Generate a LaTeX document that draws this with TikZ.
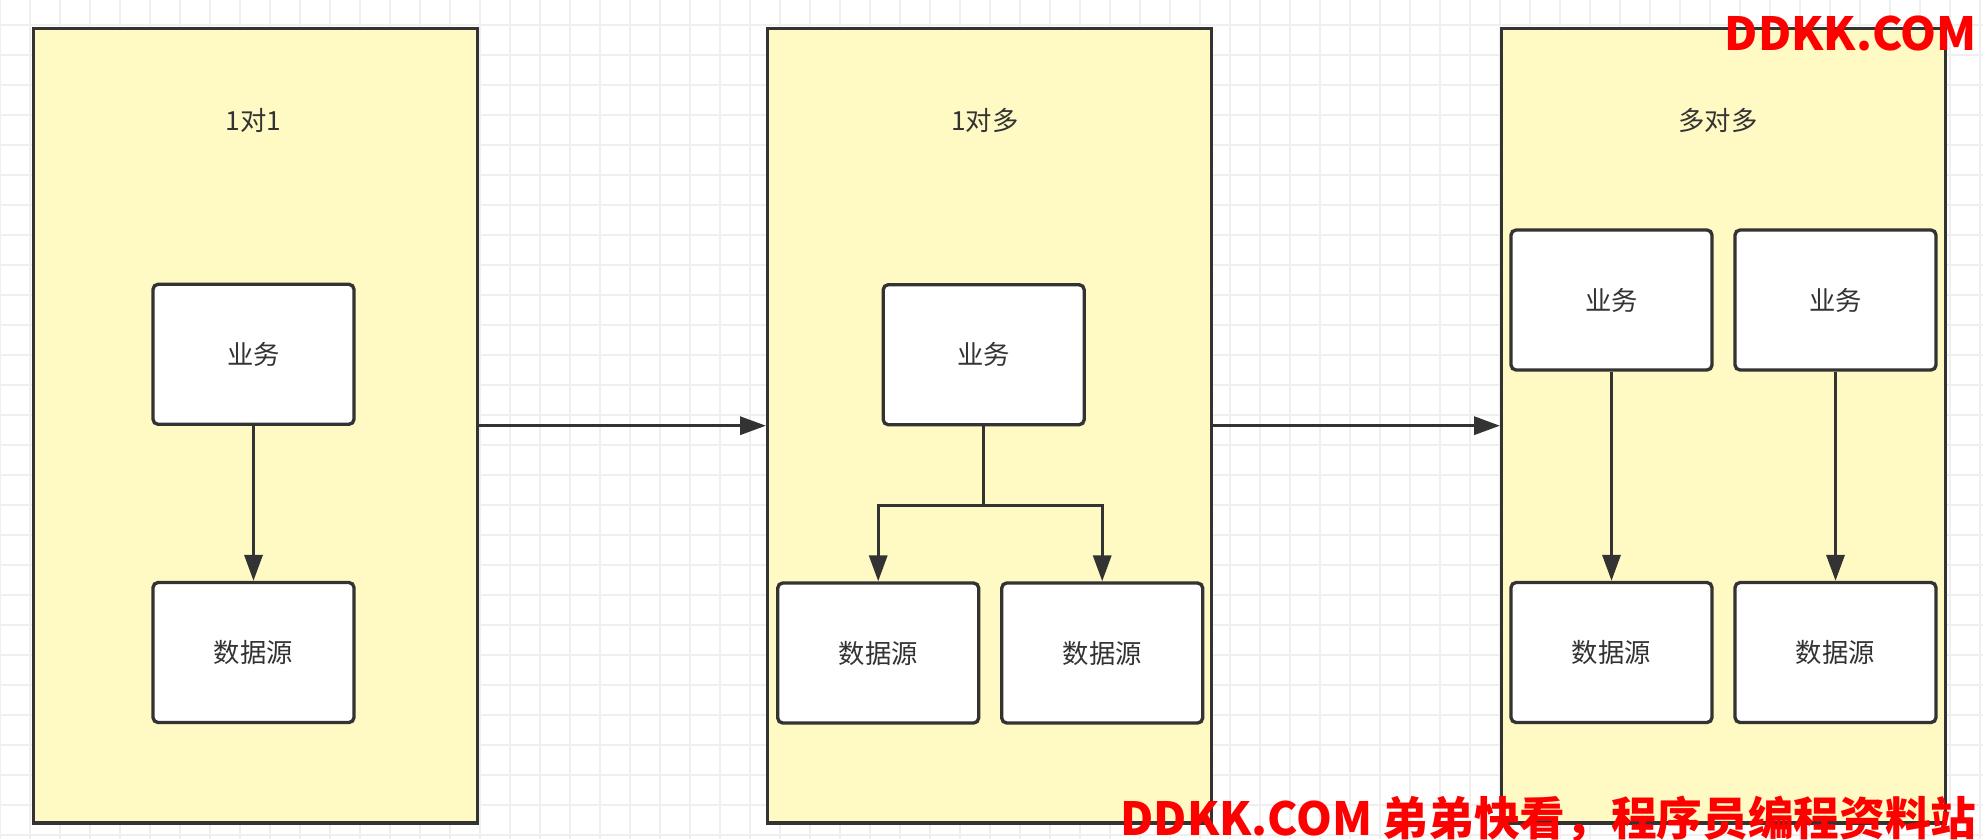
\documentclass[tikz,border=0pt]{standalone}
\usepackage{fontspec}
\newfontfamily\cjk{Noto Sans CJK SC}
\usetikzlibrary{arrows.meta,positioning}
\definecolor{panelfill}{HTML}{FFF9C4}
\definecolor{edge}{HTML}{333333}
\definecolor{gridline}{HTML}{EFEFEF}
\definecolor{wmred}{HTML}{FF0000}
\tikzset{
  panel/.style={draw=edge,fill=panelfill,line width=1.9pt,minimum width=8.88cm,minimum height=15.9cm,anchor=north west,inner sep=0pt},
  box/.style={draw=edge,fill=white,line width=1.9pt,rounded corners=0.1cm,minimum width=4.02cm,minimum height=2.8cm,font=\cjk\fontsize{15}{18}\selectfont,text=edge},
  title/.style={font=\cjk\fontsize{15}{18}\selectfont,text=edge},
  arr/.style={draw=edge,line width=1.9pt,-{Triangle[length=0.52cm,width=0.36cm]}},
  watermark/.style={font=\cjk\bfseries\fontsize{26}{30}\selectfont,text=wmred,inner sep=0pt}
}
\begin{document}
\begin{tikzpicture}[x=0.02cm,y=-0.02cm]
  \useasboundingbox (0,0) rectangle (1983,839);
  % background grid
  \foreach \gx in {0,30,...,1980} \draw[gridline,line width=0.7pt] (\gx,0) -- (\gx,839);
  \foreach \gy in {25,55,...,835} \draw[gridline,line width=0.7pt] (0,\gy) -- (1983,\gy);
  % the three panels
  \node[panel] (p1) at (31.6,26.6) {};
  \node[panel] (p2) at (766,26.6) {};
  \node[panel] (p3) at (1500,26.6) {};
  \node[title] (t1) at (253.5,120) {1对1};
  \node[title] (t2) at (985,120) {1对多};
  \node[title] (t3) at (1718,120) {多对多};
  \draw[arr] (p1.east) -- (p2.west);
  \draw[arr] (p2.east) -- (p3.west);
  % 1对1
  \node[box] (s1) at (253.5,354.3) {业务};
  \node[box] (d1) at (253.5,652.5) {数据源};
  \draw[arr] (s1) -- (d1);
  % 1对多
  \node[box] (s2) at (983.7,354.7) {业务};
  \node[box] (d2a) at (878.2,653) {数据源};
  \node[box] (d2b) at (1102.2,653) {数据源};
  \coordinate (fork) at (983.7,505.7);
  \draw[edge,line width=1.9pt] (s2) -- (fork);
  \draw[arr] (fork) -| (d2a);
  \draw[arr] (fork) -| (d2b);
  % 多对多
  \node[box] (s3a) at (1611.5,300) {业务};
  \node[box] (s3b) at (1835.5,300) {业务};
  \node[box] (d3a) at (1611.5,652.5) {数据源};
  \node[box] (d3b) at (1835.5,652.5) {数据源};
  \draw[arr] (s3a) -- (d3a);
  \draw[arr] (s3b) -- (d3b);
  % watermarks
  \node[watermark,anchor=base east] (wm1) at (1977,50) {DDKK.COM};
  \node[watermark,anchor=base east] (wm2) at (1977,835) {DDKK.COM 弟弟快看，程序员编程资料站};
\end{tikzpicture}
\end{document}
